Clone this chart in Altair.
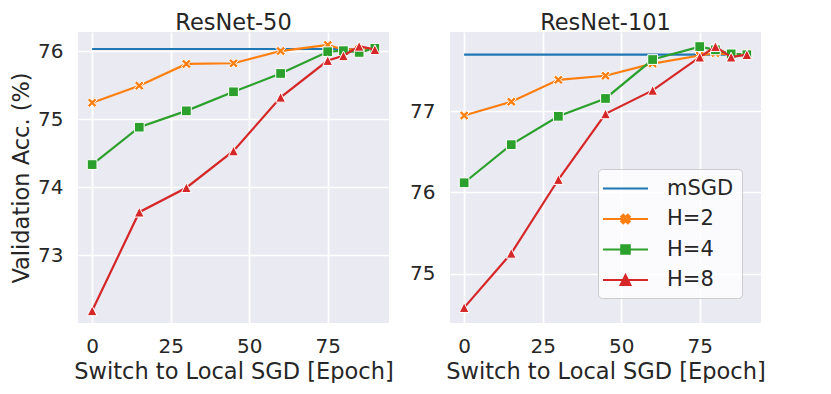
import altair as alt
import pandas as pd

# ---------------- data ----------------
epochs = [0, 15, 30, 45, 60, 75, 80, 85, 90]
msgd_epochs = [0, 90]

r50_msgd = [76.03, 76.03]
r50_h2 = [75.24, 75.49, 75.81, 75.82, 76.00, 76.09, 76.02, 76.03, 76.04]
r50_h4 = [74.33, 74.88, 75.12, 75.40, 75.67, 75.99, 76.005, 75.98, 76.04]
r50_h8 = [72.18, 73.63, 73.99, 74.53, 75.32, 75.86, 75.93, 76.07, 76.02]

r101_msgd = [77.70, 77.70]
r101_h2 = [76.95, 77.12, 77.39, 77.44, 77.59, 77.69, 77.72, 77.70, 77.70]
r101_h4 = [76.12, 76.59, 76.94, 77.16, 77.64, 77.80, 77.76, 77.71, 77.70]
r101_h8 = [74.58, 75.25, 76.16, 76.97, 77.26, 77.67, 77.80, 77.67, 77.70]

panel_titles = ["ResNet-50", "ResNet-101"]
series_names = ["mSGD", "H=2", "H=4", "H=8"]
series_colors = ["#1f77b4", "#ff7f0e", "#2ca02c", "#d62728"]
x_ticks = [0, 25, 50, 75]
r50_y_ticks = [73, 74, 75, 76]
r101_y_ticks = [75, 76, 77]

x_title = "Switch to Local SGD [Epoch]"
y_title = "Validation Acc. (%)"

# ---------------- helpers ----------------
FONT = "DejaVu Sans"
TXT = "#262626"


def poly(points, s=1.0):
    return "M" + "L".join(f"{x * s:.3f},{y * s:.3f}" for x, y in points) + "Z"


X_PTS = [(-1, -0.55), (-0.55, -1), (0, -0.45), (0.55, -1), (1, -0.55), (0.45, 0),
         (1, 0.55), (0.55, 1), (0, 0.45), (-0.55, 1), (-1, 0.55), (-0.45, 0)]
SQ_PTS = [(-1, -1), (1, -1), (1, 1), (-1, 1)]
TRI_PTS = [(0, -1), (1, 1), (-1, 1)]

marker_paths = {"H=2": poly(X_PTS), "H=4": poly(SQ_PTS), "H=8": poly(TRI_PTS)}
marker_sizes = {"H=2": 90, "H=4": 95, "H=8": 95}

# legend symbols: a line segment with the marker on it (symbolSize 400 -> unit = 10px)
LINE = "M-2.25,0H2.25"
legend_paths = [
    LINE,
    LINE + poly(X_PTS, 0.42),
    LINE + poly(SQ_PTS, 0.42),
    LINE + poly(TRI_PTS, 0.48),
]

legend = alt.Legend(
    orient="none", legendX=520, legendY=137, title=None,
    labelFontSize=21, labelFont=FONT, labelColor=TXT,
    symbolSize=400, symbolStrokeWidth=2.2, symbolOpacity=1,
    rowPadding=8.5, padding=8, labelOffset=30, symbolOffset=8,
    fillColor="rgba(255,255,255,0.8)", strokeColor="#cccccc", cornerRadius=4,
)


def build_df(msgd, h2, h4, h8):
    rows = []
    for e, v in zip(msgd_epochs, msgd):
        rows.append({"series": "mSGD", "epoch": e, "acc": v})
    for name, vals in (("H=2", h2), ("H=4", h4), ("H=8", h8)):
        for e, v in zip(epochs, vals):
            rows.append({"series": name, "epoch": e, "acc": v})
    return pd.DataFrame(rows)


color_scale = alt.Scale(domain=series_names, range=series_colors)


def panel(df, title, ydomain, yticks, show_ytitle, with_legend):
    base = alt.Chart(df)
    xenc = alt.X("epoch:Q", scale=alt.Scale(domain=[-4.5, 94.5], nice=False, zero=False),
                 axis=alt.Axis(values=x_ticks, title=x_title))
    yenc = alt.Y("acc:Q", scale=alt.Scale(domain=ydomain, nice=False, zero=False),
                 axis=alt.Axis(values=yticks, title=y_title if show_ytitle else None))
    cenc = alt.Color("series:N", scale=color_scale, legend=None)
    layers = []
    for name in series_names:
        sub = base.transform_filter(alt.datum.series == name)
        layers.append(sub.mark_line(strokeWidth=2.2).encode(x=xenc, y=yenc, color=cenc))
        if name in marker_paths:
            layers.append(sub.mark_point(filled=True, opacity=1, stroke="white", strokeWidth=1).encode(
                x=xenc, y=yenc, color=cenc,
                shape=alt.value(marker_paths[name]),
                size=alt.value(marker_sizes[name]),
            ))
    if with_legend:
        # empty layer: draws nothing, only carries the legend
        layers.append(base.transform_filter("false").mark_point(filled=True).encode(
            x=xenc, y=yenc,
            fill=alt.Fill("series:N", scale=alt.Scale(domain=series_names, range=series_colors), legend=legend),
            stroke=alt.Stroke("series:N", scale=alt.Scale(domain=series_names, range=series_colors), legend=legend),
            shape=alt.Shape("series:N", scale=alt.Scale(domain=series_names, range=legend_paths), legend=legend),
        ))
    return alt.layer(*layers).properties(width=311, height=291, title=title)


left = panel(build_df(r50_msgd, r50_h2, r50_h4, r50_h8), panel_titles[0],
             [72.0, 76.28], r50_y_ticks, True, False)
right = panel(build_df(r101_msgd, r101_h2, r101_h4, r101_h8), panel_titles[1],
              [74.39, 77.98], r101_y_ticks, False, True)

chart = (
    alt.hconcat(left, right, spacing=15)
    .resolve_scale(color="independent", y="independent")
    .configure_view(fill="#EAEAF2", stroke=None)
    .configure_axis(
        grid=True, gridColor="white", gridWidth=1.7, domain=False, ticks=False,
        labelFont=FONT, titleFont=FONT, labelFontSize=20, titleFontSize=22.5,
        labelColor=TXT, titleColor=TXT, titleFontWeight="normal",
        labelPadding=14,
    )
    .configure_axisX(titlePadding=4, labelPadding=13)
    .configure_axisY(titlePadding=4, labelPadding=15)
    .configure_title(font=FONT, fontSize=22.5, color=TXT, fontWeight="normal", offset=-2.5)
    .properties(background="white", padding={"left": 2, "top": 4, "right": 5, "bottom": 0})
)

chart.save("out.html", embed_options={"renderer": "svg", "actions": False})
